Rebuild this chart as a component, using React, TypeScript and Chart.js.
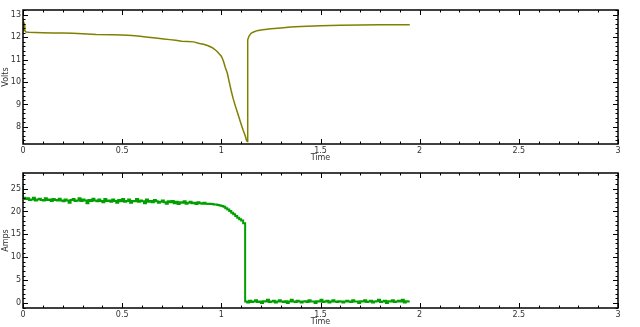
import React, { useEffect, useRef } from "react";
import { Chart, registerables } from "chart.js";

Chart.register(...registerables);

// ---- Data ----
const voltTimes = [
  0, 0.003, 0.006, 0.009, 0.015, 0.03, 0.06, 0.1, 0.15, 0.2,
  0.25, 0.3, 0.37, 0.45, 0.5, 0.55, 0.59, 0.63, 0.67, 0.71,
  0.74, 0.77, 0.8, 0.83, 0.86, 0.89, 0.91, 0.93, 0.95, 0.96,
  0.97, 0.98, 0.99, 1.0, 1.01, 1.02, 1.03, 1.04, 1.05, 1.06,
  1.07, 1.08, 1.09, 1.1, 1.11, 1.12, 1.127, 1.131, 1.133, 1.138,
  1.144, 1.15, 1.16, 1.18, 1.2, 1.25, 1.3, 1.35, 1.4, 1.5,
  1.6, 1.7, 1.8, 1.9, 1.95,
];
const voltValues = [
  12.3, 12.68, 12.6, 12.3, 12.23, 12.22, 12.21, 12.2, 12.19, 12.18,
  12.17, 12.15, 12.12, 12.11, 12.1, 12.07, 12.04, 12.0, 11.96, 11.92,
  11.89, 11.86, 11.82, 11.81, 11.79, 11.72, 11.68, 11.63, 11.55, 11.5,
  11.43, 11.35, 11.25, 11.15, 10.95, 10.65, 10.4, 10.0, 9.6, 9.25,
  8.95, 8.68, 8.4, 8.12, 7.85, 7.62, 7.4, 7.35, 11.88, 12.02,
  12.1, 12.17, 12.22, 12.29, 12.32, 12.37, 12.41, 12.45, 12.47, 12.51,
  12.53, 12.54, 12.55, 12.55, 12.55,
];

const currentStartTime = 0;
const currentSampleStep = 0.01;
const currentValues = [
  25.6, 23.0, 22.7, 22.9, 22.5, 22.6, 23.0, 22.4, 22.6, 22.8,
  22.5, 22.4, 22.9, 22.5, 22.6, 22.3, 22.7, 22.5, 22.4, 22.8,
  22.4, 22.2, 22.6, 22.4, 21.9, 22.5, 22.7, 22.3, 22.4, 22.9,
  22.3, 22.6, 22.4, 21.8, 22.5, 22.3, 22.8, 22.4, 22.2, 22.6,
  22.3, 22.0, 22.7, 22.3, 22.4, 22.1, 22.6, 22.3, 21.9, 22.5,
  22.2, 22.7, 22.1, 22.3, 22.6, 21.9, 22.3, 22.2, 22.7, 22.1,
  22.4, 22.2, 21.8, 22.6, 22.1, 22.3, 22.0, 22.5, 22.2, 21.9,
  22.1, 22.4, 22.0, 21.7, 22.2, 22.0, 22.3, 21.8, 22.1, 21.6,
  22.0, 21.9, 22.2, 21.7, 21.9, 22.1, 21.8, 21.9, 21.6, 22.0,
  21.8, 21.7, 21.9, 21.7, 21.6, 21.7, 21.6, 21.5, 21.5, 21.4,
  21.3, 21.2, 21.0, 20.7, 20.4, 20.1, 19.7, 19.4, 19.0, 18.6,
  18.3, 18.0, 17.4,
  0.3, 0.1, 0.5, 0.2, 0.3, 0.6, 0.2,
  0.3, 0.0, 0.4, 0.3, 0.7, 0.2, 0.3, 0.5, 0.1, 0.3,
  0.6, 0.3, 0.2, 0.4, 0.0, 0.3, 0.7, 0.3, 0.2, 0.5,
  0.3, 0.1, 0.3, 0.4, 0.2, 0.6, 0.3, 0.3, 0.0, 0.4,
  0.3, 0.7, 0.2, 0.3, 0.5, 0.1, 0.3, 0.6, 0.3, 0.2,
  0.4, 0.3, 0.1, 0.3, 0.5, 0.3, 0.2, 0.6, 0.3, 0.3,
  0.0, 0.4, 0.3, 0.6, 0.2, 0.3, 0.5, 0.1, 0.3, 0.4,
  0.7, 0.2, 0.3, 0.5, 0.0, 0.4, 0.3, 0.6, 0.2, 0.3,
  0.5, 0.3, 0.7, 0.1, 0.4, 0.3,
];

const timeTicks = [0, 0.5, 1, 1.5, 2, 2.5, 3];
const voltTicks = [8, 9, 10, 11, 12, 13];
const ampTicks = [0, 5, 10, 15, 20, 25];

const FONT = "'DejaVu Sans', sans-serif";
const TEXT = "#333";

// ---- gnuplot-like frame with inward ticks ----
const framePlugin = {
  id: "frame",
  afterDraw(chart: any, _args: any, opts: any) {
    const { ctx, chartArea } = chart;
    const { left, right, top, bottom } = chartArea;
    const xs = chart.scales.x;
    const ys = chart.scales.y;
    ctx.save();
    ctx.strokeStyle = "#000";
    ctx.lineWidth = 1;
    ctx.beginPath();
    const xMinor = opts.xMinor, xPer = opts.xPer;
    const kx0 = Math.ceil(xs.min / xMinor - 1e-6);
    const kx1 = Math.floor(xs.max / xMinor + 1e-6);
    for (let k = kx0; k <= kx1; k++) {
      const len = k % xPer === 0 ? 5 : 2.5;
      const px = Math.round(xs.getPixelForValue(k * xMinor)) + 0.5;
      ctx.moveTo(px, bottom);
      ctx.lineTo(px, bottom - len);
      ctx.moveTo(px, top);
      ctx.lineTo(px, top + len);
    }
    const yMinor = opts.yMinor, yPer = opts.yPer;
    const ky0 = Math.ceil(ys.min / yMinor - 1e-6);
    const ky1 = Math.floor(ys.max / yMinor + 1e-6);
    for (let k = ky0; k <= ky1; k++) {
      const len = k % yPer === 0 ? 5 : 2.5;
      const py = Math.round(ys.getPixelForValue(k * yMinor)) + 0.5;
      ctx.moveTo(left, py);
      ctx.lineTo(left + len, py);
      ctx.moveTo(right, py);
      ctx.lineTo(right - len, py);
    }
    ctx.stroke();
    ctx.lineWidth = 1.5;
    ctx.strokeRect(left, top, right - left, bottom - top);
    ctx.restore();
  },
};

function makeOptions(
  yMin: number,
  yMax: number,
  yTicks: number[],
  yTitle: string,
  yMinor: number,
  yPer: number
): any {
  return {
    responsive: false,
    animation: false,
    events: [],
    layout: { padding: { top: 10, right: 22, left: 0, bottom: 0 } },
    plugins: {
      legend: { display: false },
      tooltip: { enabled: false },
      frame: { xMinor: 0.1, xPer: 5, yMinor, yPer },
    },
    scales: {
      x: {
        type: "linear",
        min: 0,
        max: 3,
        grid: { display: false, drawTicks: false },
        border: { display: false },
        afterBuildTicks: (s: any) => {
          s.ticks = timeTicks.map((v) => ({ value: v }));
        },
        afterFit: (s: any) => {
          s.height = 19;
        },
        ticks: {
          autoSkip: false,
          maxRotation: 0,
          padding: 2,
          color: TEXT,
          font: { family: FONT, size: 8 },
          callback: (v: any) => String(v),
        },
        title: {
          display: true,
          text: "Time",
          color: TEXT,
          font: { family: FONT, size: 8 },
          padding: { top: 0, bottom: 0 },
        },
      },
      y: {
        type: "linear",
        min: yMin,
        max: yMax,
        grid: { display: false, drawTicks: false },
        border: { display: false },
        afterBuildTicks: (s: any) => {
          s.ticks = yTicks.map((v) => ({ value: v }));
        },
        afterFit: (s: any) => {
          s.width = 23;
        },
        ticks: {
          padding: 2,
          color: TEXT,
          font: { family: FONT, size: 8 },
          callback: (v: any) => String(v),
        },
        title: {
          display: true,
          text: yTitle,
          color: TEXT,
          font: { family: FONT, size: 8 },
          padding: { top: 1, bottom: 0 },
        },
      },
    },
  };
}

function VoltChart() {
  const ref = useRef<HTMLCanvasElement>(null);
  useEffect(() => {
    const chart = new Chart(ref.current as HTMLCanvasElement, {
      type: "line",
      data: {
        datasets: [
          {
            data: voltTimes.map((t, i) => ({ x: t, y: voltValues[i] })),
            borderColor: "rgb(128,128,0)",
            borderWidth: 1.5,
            pointRadius: 0,
            fill: false,
            tension: 0,
          },
        ],
      },
      options: makeOptions(7.24, 13.21, voltTicks, "Volts", 0.2, 5),
      plugins: [framePlugin],
    } as any);
    return () => chart.destroy();
  }, []);
  return <canvas ref={ref} width={640} height={163} style={{ display: "block" }} />;
}

function AmpChart() {
  const ref = useRef<HTMLCanvasElement>(null);
  useEffect(() => {
    const chart = new Chart(ref.current as HTMLCanvasElement, {
      type: "line",
      data: {
        datasets: [
          {
            data: currentValues.map((v, i) => ({
              x: currentStartTime + i * currentSampleStep,
              y: v,
            })),
            borderColor: "rgb(0,160,0)",
            borderWidth: 2,
            pointRadius: 0,
            fill: false,
            stepped: "after",
          },
        ],
      },
      options: makeOptions(-1.1, 28.4, ampTicks, "Amps", 1, 5),
      plugins: [framePlugin],
    } as any);
    return () => chart.destroy();
  }, []);
  return <canvas ref={ref} width={640} height={164} style={{ display: "block" }} />;
}

export default function App() {
  return (
    <div
      style={{
        position: "fixed",
        left: 0,
        top: 0,
        width: 640,
        height: 327,
        background: "#fff",
      }}
    >
      <VoltChart />
      <AmpChart />
    </div>
  );
}
